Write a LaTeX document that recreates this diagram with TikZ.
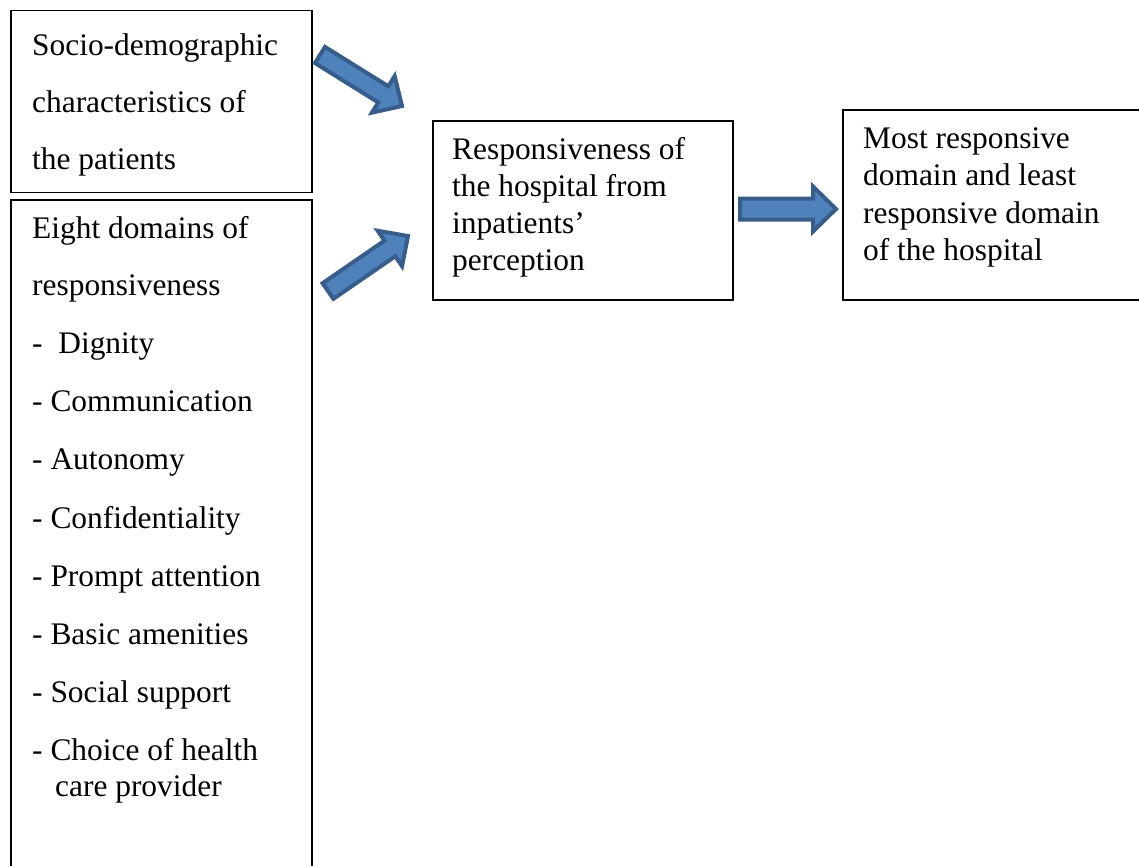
\documentclass[tikz,border=0pt]{standalone}
\usepackage{fontspec}
\setmainfont{Liberation Serif}
\usetikzlibrary{calc}
\definecolor{arrfill}{HTML}{4F81BD}
\definecolor{arrline}{HTML}{385D8A}
\tikzset{
  box/.style={draw=black, line width=1.6pt, rectangle, inner sep=0pt, anchor=north west},
  txt/.style={anchor=base west, inner sep=0pt, font=\fontsize{31.4}{37}\selectfont},
  barrow/.style={fill=arrfill, draw=arrline, line width=4pt, line join=miter}
}
% #1 start, #2 end, #3 shaft half width, #4 head half width, #5 head length
\newcommand{\blockarrow}[5]{%
  \draw[barrow] let \p1=(#1), \p2=(#2),
    \n1={atan2(\y2-\y1,\x2-\x1)}, \n2={veclen(\x2-\x1,\y2-\y1)} in
    [shift={(\p1)}, rotate=\n1]
    (0,-#3) -- ({\n2-#5},-#3) -- ({\n2-#5},-#4) -- ({\n2},0) -- ({\n2-#5},#4)
    -- ({\n2-#5},#3) -- (0,#3) -- cycle;
}
\begin{document}
\begin{tikzpicture}[x=1pt,y=-1pt]
\useasboundingbox (0,0) rectangle (1139,865);
% boxes
\node[box, minimum width=301pt, minimum height=182pt] (b1) at (10,9.5) {};
\node[box, minimum width=301pt, minimum height=680pt] (b2) at (10,199) {};
\node[box, minimum width=300pt, minimum height=179pt] (b3) at (432,120) {};
\node[box, minimum width=310pt, minimum height=190pt] (b4) at (842,109) {};
% box 1 text
\node[txt] (t1a) at (32,55) {Socio-demographic};
\node[txt] (t1b) at (32,112) {characteristics of};
\node[txt] (t1c) at (32,169) {the patients};
% box 2 text
\node[txt] (t2a) at (32,238) {Eight domains of};
\node[txt] (t2b) at (32,295) {responsiveness};
\node[txt] (t2c) at (32,353) {-\ \ Dignity};
\node[txt] (t2d) at (32,411) {- Communication};
\node[txt] (t2e) at (32,469) {- Autonomy};
\node[txt] (t2f) at (32,528) {- Confidentiality};
\node[txt] (t2g) at (32,586) {- Prompt attention};
\node[txt] (t2h) at (32,644) {- Basic amenities};
\node[txt] (t2i) at (32,702) {- Social support};
\node[txt] (t2j) at (32,760) {- Choice of health};
\node[txt] (t2k) at (55,796) {care provider};
% box 3 text
\node[txt] (t3a) at (452,159) {Responsiveness of};
\node[txt] (t3b) at (452,196) {the hospital from};
\node[txt] (t3c) at (452,233) {inpatients’};
\node[txt] (t3d) at (452,270) {perception};
% box 4 text
\node[txt] (t4a) at (863,148) {Most responsive};
\node[txt] (t4b) at (863,185) {domain and least};
\node[txt] (t4c) at (863,223) {responsive domain};
\node[txt] (t4d) at (863,260) {of the hospital};
% arrow anchors
\coordinate (a1s) at (320,55);
\coordinate (a1e) at (402,106);
\coordinate (a2s) at (328,291);
\coordinate (a2e) at (408,236);
\coordinate (a3s) at (740,209);
\coordinate (a3e) at (836,209);
\blockarrow{a1s}{a1e}{9.5}{21.5}{22}
\blockarrow{a2s}{a2e}{9.5}{21.5}{22}
\blockarrow{a3s}{a3e}{10.5}{22.5}{23}
\end{tikzpicture}
\end{document}
